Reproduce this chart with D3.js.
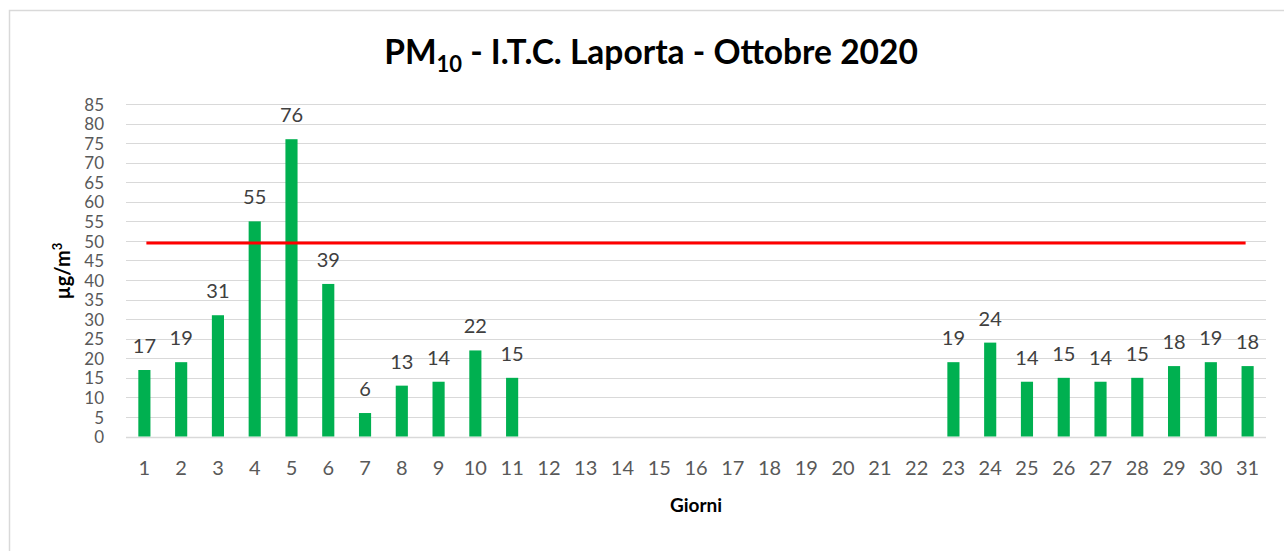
<!DOCTYPE html>
<html>
<head>
<meta charset="utf-8">
<script src="https://cdn.jsdelivr.net/npm/d3@7"></script>
<style>
  body { margin: 0; background: #fff; }
  text { font-family: Lato, "Open Sans", sans-serif; }
</style>
</head>
<body>
<div id="chart"></div>
<script>
// daily PM10 values, October 2020 (null = no data)
const days = d3.range(1, 32).map(String);
const pm10 = [17, 19, 31, 55, 76, 39, 6, 13, 14, 22, 15,
    null, null, null, null, null, null, null, null, null, null, null,
    19, 24, 14, 15, 14, 15, 18, 19, 18];
const yTicks = d3.range(0, 90, 5);
const limit = 50;

const COLORS = {
    bar: "#00b050",
    limit: "#ff0000",
    grid: "#d9d9d9",
    tick: "#595959",
    label: "#404040",
    title: "#000"
};

const width = 1284, height = 551;
const margin = { top: 104, right: 18, bottom: 114.5, left: 126 };

const svg = d3.select("#chart")
    .append("svg")
    .attr("width", width)
    .attr("height", height);

// chart frame
svg.append("rect")
    .attr("x", 9.5).attr("y", 10.5)
    .attr("width", width + 20).attr("height", height + 20)
    .attr("fill", "#fff")
    .attr("stroke", COLORS.grid)
    .attr("stroke-width", 1.5);

const x = d3.scaleBand()
    .domain(days)
    .range([margin.left, width - margin.right])
    .paddingInner(0.67)
    .paddingOuter(0.335);

const y = d3.scaleLinear()
    .domain([0, 85])
    .range([height - margin.bottom, margin.top]);

// gridlines
svg.append("g")
    .selectAll("line")
    .data(yTicks)
    .enter()
    .append("line")
    .attr("x1", margin.left)
    .attr("x2", width - margin.right)
    .attr("y1", d => Math.round(y(d)) + 0.5)
    .attr("y2", d => Math.round(y(d)) + 0.5)
    .attr("stroke", COLORS.grid)
    .attr("stroke-width", d => d === 0 ? 1.5 : 1);

// y axis labels (kept a bit small so they don't collide)
const yAxis = svg.append("g")
    .attr("transform", `translate(${margin.left - 22},0)`)
    .call(d3.axisLeft(y).tickValues(yTicks).tickSize(0).tickPadding(0));
yAxis.select(".domain").remove();
yAxis.selectAll("text")
    .attr("fill", COLORS.tick)
    .attr("dy", "0.36em")
    .style("font-size", "17px");

// x axis labels
const xAxis = svg.append("g")
    .attr("transform", `translate(0,${height - margin.bottom})`)
    .call(d3.axisBottom(x).tickSize(0));
xAxis.select(".domain").remove();
xAxis.selectAll("text")
    .attr("y", 38.5)
    .attr("dy", null)
    .attr("fill", COLORS.tick)
    .style("font-size", "20px");

// bars
const present = days.map((d, i) => ({ day: d, v: pm10[i] })).filter(d => d.v !== null);

svg.append("g")
    .selectAll("rect")
    .data(present)
    .enter()
    .append("rect")
    .attr("x", d => x(d.day))
    .attr("y", d => y(d.v))
    .attr("width", x.bandwidth())
    .attr("height", d => y(0) - y(d.v))
    .attr("fill", COLORS.bar);

// value labels
svg.append("g")
    .selectAll("text")
    .data(present)
    .enter()
    .append("text")
    .attr("x", d => x(d.day) + x.bandwidth() / 2)
    .attr("y", d => y(d.v) - 17)
    .attr("text-anchor", "middle")
    .attr("fill", COLORS.label)
    .style("font-size", "20px")
    .text(d => d.v);

// limit line
svg.append("line")
    .attr("x1", x(days[0]) + x.bandwidth() / 2 + 2)
    .attr("x2", x(days[days.length - 1]) + x.bandwidth() / 2 - 2)
    .attr("y1", y(limit) + 2)
    .attr("y2", y(limit) + 2)
    .attr("stroke", COLORS.limit)
    .attr("stroke-width", 3);

// title
const title = svg.append("text")
    .attr("x", 651)
    .attr("y", 64)
    .attr("text-anchor", "middle")
    .attr("fill", COLORS.title)
    .style("font-size", "33.5px")
    .style("font-weight", "bold");
title.append("tspan").text("PM");
title.append("tspan").attr("dy", 8).style("font-size", "22px").text("10");
title.append("tspan").attr("dy", -8).text(" - I.T.C. Laporta - Ottobre 2020");

// axis titles
svg.append("text")
    .attr("x", 696)
    .attr("y", 512)
    .attr("text-anchor", "middle")
    .style("font-size", "19px")
    .style("font-weight", "bold")
    .text("Giorni");

const yTitle = svg.append("text")
    .attr("transform", "translate(70,271) rotate(-90)")
    .attr("text-anchor", "middle")
    .style("font-size", "20px")
    .style("font-weight", "bold");
yTitle.append("tspan").text("µg/m");
yTitle.append("tspan").attr("dy", -8).style("font-size", "13px").text("3");
</script>
</body>
</html>
